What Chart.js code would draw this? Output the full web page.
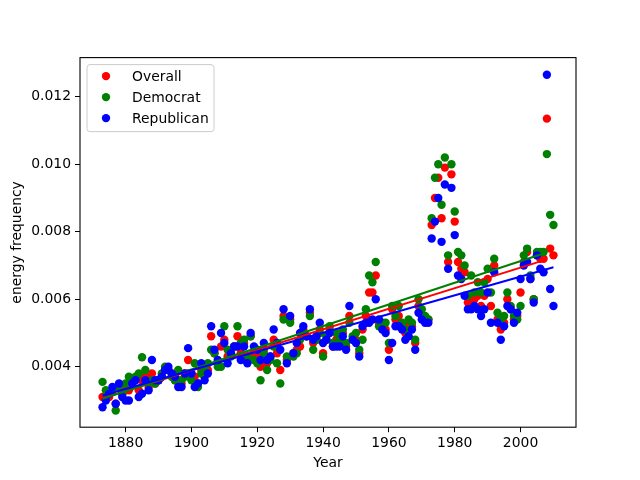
<!DOCTYPE html>
<html>
<head>
<meta charset="utf-8">
<script src="https://cdn.jsdelivr.net/npm/chart.js@4.4.1/dist/chart.umd.min.js"></script>
<style>
  html, body { margin: 0; padding: 0; background: #fff; }
</style>
</head>
<body>
<canvas id="chart" width="640" height="480"></canvas>
<script>
// values
const years = [
  1873, 1874, 1875, 1876, 1877, 1878, 1879, 1880, 1881, 1882, 1883, 1884, 1885, 1886, 1887, 1888, 1889, 1890, 1891, 1892,
  1893, 1894, 1895, 1896, 1897, 1898, 1899, 1900, 1901, 1902, 1903, 1904, 1905, 1906, 1907, 1908, 1909, 1910, 1911, 1912,
  1913, 1914, 1915, 1916, 1917, 1918, 1919, 1920, 1921, 1922, 1923, 1924, 1925, 1926, 1927, 1928, 1929, 1930, 1931, 1932,
  1933, 1934, 1935, 1936, 1937, 1938, 1939, 1940, 1941, 1942, 1943, 1944, 1945, 1946, 1947, 1948, 1949, 1950, 1951, 1952,
  1953, 1954, 1955, 1956, 1957, 1958, 1959, 1960, 1961, 1962, 1963, 1964, 1965, 1966, 1967, 1968, 1969, 1970, 1971, 1972,
  1973, 1974, 1975, 1976, 1977, 1978, 1979, 1980, 1981, 1982, 1983, 1984, 1985, 1986, 1987, 1988, 1989, 1990, 1991, 1992,
  1993, 1994, 1995, 1996, 1997, 1998, 1999, 2000, 2001, 2002, 2003, 2004, 2005, 2006, 2007, 2008, 2009, 2010
];
const overall = [
  0.0031, 0.0031, 0.0031, 0.0033, 0.0029, 0.0034, 0.0032, 0.0033, 0.0033, 0.0035, 0.0036, 0.0033, 0.0036, 0.0037, 0.0034, 0.0038, 0.0035, 0.0036, 0.0037, 0.0039,
  0.0039, 0.0038, 0.0036, 0.0036, 0.0035, 0.0038, 0.0042, 0.0038, 0.0037, 0.0035, 0.0039, 0.0037, 0.0039, 0.0049, 0.0044, 0.0041, 0.0046, 0.0048, 0.0043, 0.0044,
  0.0046, 0.0049, 0.0044, 0.0047, 0.0042, 0.0049, 0.0044, 0.0043, 0.0040, 0.0045, 0.0041, 0.0043, 0.0048, 0.0044, 0.0039, 0.0055, 0.0042, 0.0054, 0.0044, 0.0045,
  0.0046, 0.0051, 0.0049, 0.0056, 0.0047, 0.0048, 0.0051, 0.0044, 0.0048, 0.0051, 0.0046, 0.0048, 0.0047, 0.0050, 0.0046, 0.0055, 0.0048, 0.0048, 0.0044, 0.0051,
  0.0055, 0.0062, 0.0062, 0.0067, 0.0053, 0.0052, 0.0051, 0.0045, 0.0057, 0.0054, 0.0055, 0.0052, 0.0050, 0.0052, 0.0052, 0.0047, 0.0058, 0.0055, 0.0054, 0.0054,
  0.0082, 0.0090, 0.0096, 0.0084, 0.0099, 0.0071, 0.0097, 0.0083, 0.0071, 0.0069, 0.0068, 0.0059, 0.0060, 0.0060, 0.0061, 0.0058, 0.0061, 0.0066, 0.0058, 0.0070,
  0.0054, 0.0051, 0.0053, 0.0060, 0.0057, 0.0054, 0.0055, 0.0062, 0.0071, 0.0074, 0.0066, 0.0060, 0.0073, 0.0072, 0.0072, 0.01135, 0.0075, 0.0073
];
const democrat = [
  0.00355, 0.0033, 0.0032, 0.0033, 0.0027, 0.0034, 0.0032, 0.0035, 0.0037, 0.0036, 0.0037, 0.0038, 0.00428, 0.0039, 0.0035, 0.0036, 0.0035, 0.0036, 0.0038, 0.0040,
  0.0039, 0.0037, 0.0036, 0.0039, 0.0036, 0.0037, 0.0038, 0.0036, 0.0041, 0.0034, 0.0038, 0.0039, 0.0041, 0.0045, 0.0044, 0.0040, 0.0040, 0.0052, 0.0045, 0.0043,
  0.0046, 0.0052, 0.0047, 0.0048, 0.0043, 0.0049, 0.0042, 0.0041, 0.0036, 0.0044, 0.0039, 0.0042, 0.0046, 0.0041, 0.0035, 0.0054, 0.0043, 0.0053, 0.0043, 0.0044,
  0.0048, 0.0050, 0.0049, 0.0055, 0.0045, 0.0048, 0.0050, 0.0043, 0.0049, 0.0052, 0.0047, 0.0050, 0.0048, 0.0051, 0.0047, 0.0053, 0.0049, 0.0050, 0.0045, 0.0048,
  0.0057, 0.0067, 0.0065, 0.0071, 0.0052, 0.0053, 0.0053, 0.0047, 0.0058, 0.0055, 0.0058, 0.0053, 0.0051, 0.0054, 0.0053, 0.0048, 0.0060, 0.0057, 0.0055, 0.0054,
  0.0084, 0.0096, 0.0100, 0.0088, 0.0102, 0.0073, 0.0100, 0.0086, 0.0074, 0.0073, 0.0070, 0.0061, 0.0067, 0.0062, 0.0065, 0.0062, 0.0065, 0.0069, 0.0062, 0.0072,
  0.0056, 0.0054, 0.0055, 0.0062, 0.0058, 0.0055, 0.0054, 0.0058, 0.0073, 0.0075, 0.0067, 0.0060, 0.0074, 0.0074, 0.0074, 0.0103, 0.0085, 0.0082
];
const republican = [
  0.0028, 0.0030, 0.0032, 0.0034, 0.0029, 0.0035, 0.0031, 0.0030, 0.0030, 0.0035, 0.0036, 0.0031, 0.0032, 0.0036, 0.0033, 0.0042, 0.0036, 0.0036, 0.0037, 0.0039,
  0.0040, 0.0038, 0.0037, 0.0034, 0.0034, 0.0038, 0.00455, 0.0038, 0.0034, 0.0035, 0.0041, 0.0036, 0.0038, 0.0052, 0.0045, 0.0042, 0.0050, 0.0047, 0.0041, 0.0044,
  0.0046, 0.0046, 0.0042, 0.0046, 0.0041, 0.0050, 0.0046, 0.0045, 0.0042, 0.0047, 0.0042, 0.0043, 0.0051, 0.0047, 0.0045, 0.0057, 0.0041, 0.0055, 0.0044, 0.0047,
  0.0050, 0.0052, 0.0049, 0.0057, 0.0048, 0.0049, 0.0053, 0.0047, 0.0048, 0.0050, 0.0046, 0.0046, 0.0046, 0.0049, 0.0045, 0.0058, 0.0048, 0.0047, 0.0043, 0.0052,
  0.0053, 0.0053, 0.0054, 0.0060, 0.0054, 0.0051, 0.0050, 0.0042, 0.0047, 0.0052, 0.0052, 0.0051, 0.0048, 0.0049, 0.0051, 0.0045, 0.0056, 0.0054, 0.0053, 0.0053,
  0.0078, 0.0083, 0.0090, 0.0077, 0.0094, 0.0069, 0.0093, 0.0079, 0.0067, 0.0066, 0.0061, 0.0057, 0.0057, 0.0058, 0.0057, 0.0055, 0.0057, 0.0062, 0.0053, 0.0068,
  0.0053, 0.0048, 0.0052, 0.0058, 0.0057, 0.0053, 0.0056, 0.0066, 0.0070, 0.0071, 0.0066, 0.0059, 0.0073, 0.0069, 0.0068, 0.01265, 0.0063, 0.0058
];
const seriesNames = ['Overall', 'Democrat', 'Republican'];
const seriesColors = ['#ff0000', '#008000', '#0000ff'];
const fitEnd = [2008, 2007, 2010];   // last year each fitted line reaches
const xTicks = [1880, 1900, 1920, 1940, 1960, 1980, 2000];
const yTicks = [0.004, 0.006, 0.008, 0.010, 0.012];

const FONT = { family: 'DejaVu Sans', size: 13.9 };

// least squares line through a series
function fit(xs, ys) {
  const n = xs.length;
  let sx = 0, sy = 0, sxx = 0, sxy = 0;
  for (let i = 0; i < n; i++) {
    sx += xs[i]; sy += ys[i]; sxx += xs[i] * xs[i]; sxy += xs[i] * ys[i];
  }
  const m = (n * sxy - sx * sy) / (n * sxx - sx * sx);
  return { m: m, b: (sy - m * sx) / n };
}

const seriesValues = [overall, democrat, republican];
const datasets = [];

seriesValues.forEach((vals, i) => {
  datasets.push({
    label: seriesNames[i],
    data: years.map((yr, k) => ({ x: yr, y: vals[k] })),
    backgroundColor: seriesColors[i],
    borderColor: seriesColors[i],
    pointRadius: 4.2,
    pointBorderWidth: 0,
    pointHoverRadius: 4.2,
    showLine: false,
    order: 10 - i
  });
});

seriesValues.forEach((vals, i) => {
  const f = fit(years, vals);
  datasets.push({
    label: 'fit ' + seriesNames[i],
    isFit: true,
    data: [
      { x: years[0], y: f.m * years[0] + f.b },
      { x: fitEnd[i], y: f.m * fitEnd[i] + f.b }
    ],
    borderColor: seriesColors[i],
    borderWidth: 2,
    pointRadius: 0,
    showLine: true,
    fill: false,
    order: 3 - i
  });
});

// matplotlib style legend box inside the axes
const boxLegend = {
  id: 'boxLegend',
  afterDraw(chart) {
    const ctx = chart.ctx;
    const a = chart.chartArea;
    const x0 = a.left + 7, y0 = a.top + 7, w = 127, h = 67, r = 3;
    ctx.save();
    ctx.beginPath();
    ctx.moveTo(x0 + r, y0);
    ctx.arcTo(x0 + w, y0, x0 + w, y0 + h, r);
    ctx.arcTo(x0 + w, y0 + h, x0, y0 + h, r);
    ctx.arcTo(x0, y0 + h, x0, y0, r);
    ctx.arcTo(x0, y0, x0 + w, y0, r);
    ctx.closePath();
    ctx.fillStyle = 'rgba(255,255,255,0.8)';
    ctx.fill();
    ctx.strokeStyle = '#cccccc';
    ctx.lineWidth = 1;
    ctx.stroke();
    ctx.font = FONT.size + 'px "' + FONT.family + '"';
    ctx.textBaseline = 'middle';
    ctx.fillStyle = '#000';
    chart.data.datasets.filter(d => !d.isFit).forEach((d, i) => {
      const cy = a.top + 18.5 + i * 21;
      ctx.beginPath();
      ctx.arc(a.left + 26, cy, 4.2, 0, Math.PI * 2);
      ctx.fillStyle = d.backgroundColor;
      ctx.fill();
      ctx.fillStyle = '#000';
      ctx.fillText(d.label, a.left + 52, cy + 1);
    });
    ctx.restore();
  }
};

// full frame around the axes
const frame = {
  id: 'frame',
  afterDatasetsDraw(chart) {
    const a = chart.chartArea;
    const ctx = chart.ctx;
    ctx.save();
    ctx.strokeStyle = '#000';
    ctx.lineWidth = 1.1;
    ctx.strokeRect(a.left, a.top, a.right - a.left, a.bottom - a.top);
    ctx.restore();
  }
};

new Chart(document.getElementById('chart'), {
  type: 'scatter',
  data: { datasets: datasets },
  options: {
    responsive: false,
    animation: false,
    layout: { padding: { left: 0, right: 64, top: 57.6, bottom: 0 } },
    plugins: {
      legend: { display: false },
      tooltip: { enabled: false }
    },
    scales: {
      x: {
        type: 'linear',
        min: 1866.15,
        max: 2016.85,
        afterBuildTicks: s => { s.ticks = xTicks.map(v => ({ value: v })); },
        afterFit: s => { s.height = 52.8; },
        grid: { drawOnChartArea: false, drawTicks: true, tickLength: 5, color: '#000' },
        border: { display: false },
        ticks: {
          color: '#000', font: FONT, padding: 3, maxRotation: 0, autoSkip: false,
          callback: v => String(v)
        },
        title: { display: true, text: 'Year', color: '#000', font: FONT, padding: { top: 0, bottom: 8 } }
      },
      y: {
        min: 0.002207,
        max: 0.013159,
        afterBuildTicks: s => { s.ticks = yTicks.map(v => ({ value: v })); },
        afterFit: s => { s.width = 80; },
        grid: { drawOnChartArea: false, drawTicks: true, tickLength: 5, color: '#000' },
        border: { display: false },
        ticks: {
          color: '#000', font: FONT, padding: 4, autoSkip: false,
          callback: v => v.toFixed(3)
        },
        title: { display: true, text: 'energy frequency', color: '#000', font: FONT, padding: 9 }
      }
    }
  },
  plugins: [boxLegend, frame]
});
</script>
</body>
</html>
